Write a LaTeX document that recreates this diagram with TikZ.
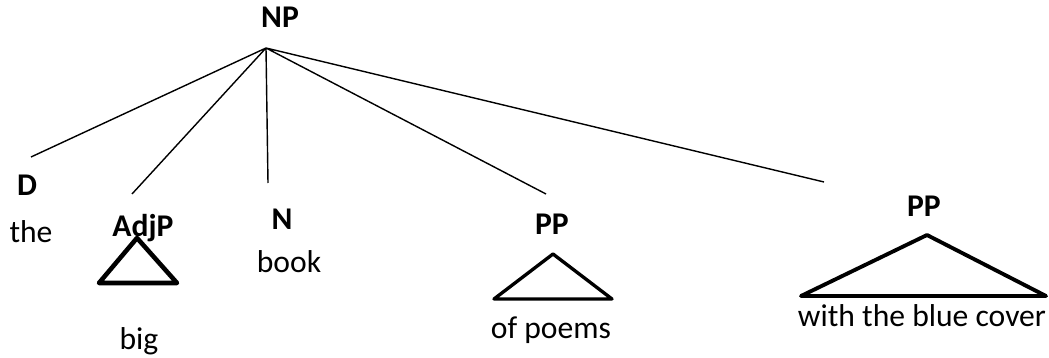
\documentclass[tikz,border=0pt]{standalone}
\usepackage{fontspec}
\setmainfont{Carlito}
\usetikzlibrary{positioning}

\begin{document}
\begin{tikzpicture}[x=0.02cm,y=-0.02cm,thick,font=\fontsize{18}{21}\selectfont]
\tikzstyle{cat}=[anchor=base,inner sep=0pt,font=\fontsize{18}{21}\selectfont\bfseries]
\tikzstyle{word}=[anchor=base,inner sep=0pt]
\tikzstyle{roof}=[line join=round,line cap=round]
\useasboundingbox (0,0) rectangle (1049,358);
% mother node and branch ends
\node[cat] (NP) at (280,28) {NP};
\coordinate (top) at (266,48);
\coordinate (dEnd) at (31,157);
\coordinate (adjEnd) at (132,194);
\coordinate (nEnd) at (268,183);
\coordinate (ppaEnd) at (546,194);
\coordinate (ppbEnd) at (824,182);
% daughters
\node[cat] (D) at (27,195) {D};
\node[word] (the) at (31,242) {the};
\node[cat] (AdjP) at (143,236) {AdjP};
\node[word] (big) at (139,349) {big};
\node[cat] (N) at (282,230) {N};
\node[word] (book) at (289,273) {book};
\node[cat] (PPa) at (552,235) {PP};
\node[word] (poems) at (551,338) {of poems};
\node[cat] (PPb) at (924,216) {PP};
\node[word] (cover) at (922,326) {with the blue cover};
\path[draw]
(top) -- (dEnd)
(top) -- (adjEnd)
(top) -- (nEnd)
(top) -- (ppaEnd)
(top) -- (ppbEnd);
% roofs
\draw[roof,line width=2.6pt] (137,238) -- (177,283) -- (99,283) -- cycle;
\draw[roof,line width=1.9pt] (553,254) -- (612,299) -- (494,299) -- cycle;
\draw[roof,line width=2.2pt] (927,235) -- (1046,296) -- (801,296) -- cycle;
\end{tikzpicture}
\end{document}
